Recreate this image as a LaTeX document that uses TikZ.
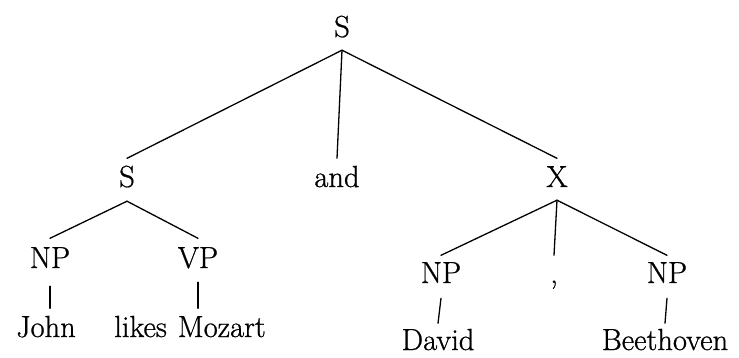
\documentclass[tikz,border=0pt]{standalone}
\usepackage{fontspec}
\newfontfamily\treefont{Latin Modern Roman}[FakeBold=0.8]
\begin{document}
\begin{tikzpicture}[x=1pt,y=-1pt,
  lbl/.style={inner sep=0pt, anchor=base, font=\treefont\fontsize{30.5}{36}\selectfont,
              text height=20.5pt, text depth=0pt},
  branch/.style={line width=1.3pt, line cap=round}]
\useasboundingbox (0,0) rectangle (739,357);

% labels of the tree
\node[lbl] (root)  at (342,37)  {S};
\node[lbl] (s1)    at (127,187) {S};
\node[lbl] (and)   at (337,187) {and};
\node[lbl] (x)     at (557,187) {X};
\node[lbl] (np1)   at (50,268)  {NP};
\node[lbl] (vp)    at (198,268) {VP};
\node[lbl] (np2)   at (441,283) {NP};
\node[lbl] (comma) at (554,283) {,};
\node[lbl] (np3)   at (667,283) {NP};
\node[lbl] (john)  at (46,337)  {John};
\node[lbl] (lm)    at (190,337) {likes\hspace{11pt}Mozart};
\node[lbl] (david) at (438,350) {David};
\node[lbl] (beet)  at (665,350) {Beethoven};

% top level
\draw[branch] ([yshift=-13pt]root.south) -- ([yshift=8pt]s1.north);
\draw[branch] ([yshift=-13pt]root.south) -- ([yshift=8pt]and.north);
\draw[branch] ([yshift=-13pt]root.south) -- ([yshift=8pt]x.north);

% first conjunct
\draw[branch] ([yshift=-14pt]s1.south) -- ([yshift=9pt]np1.north);
\draw[branch] ([yshift=-14pt]s1.south) -- ([yshift=9pt]vp.north);
\draw[branch] ([yshift=-18pt]np1.south) -- ([yshift=8pt]np1.south |- john.north);
\draw[branch] ([yshift=-14pt]vp.south) -- ([yshift=8pt]vp.south |- lm.north);

% second conjunct
\draw[branch] ([yshift=-13pt]x.south) -- ([yshift=7pt]np2.north);
\draw[branch] ([yshift=-13pt]x.south) -- ([yshift=7pt]comma.north);
\draw[branch] ([yshift=-13pt]x.south) -- ([yshift=7pt]np3.north);
\draw[branch] ([yshift=-15pt]np2.south) -- ([yshift=6pt]david.north);
\draw[branch] ([yshift=-15pt]np3.south) -- ([yshift=6pt]beet.north);
\end{tikzpicture}
\end{document}
